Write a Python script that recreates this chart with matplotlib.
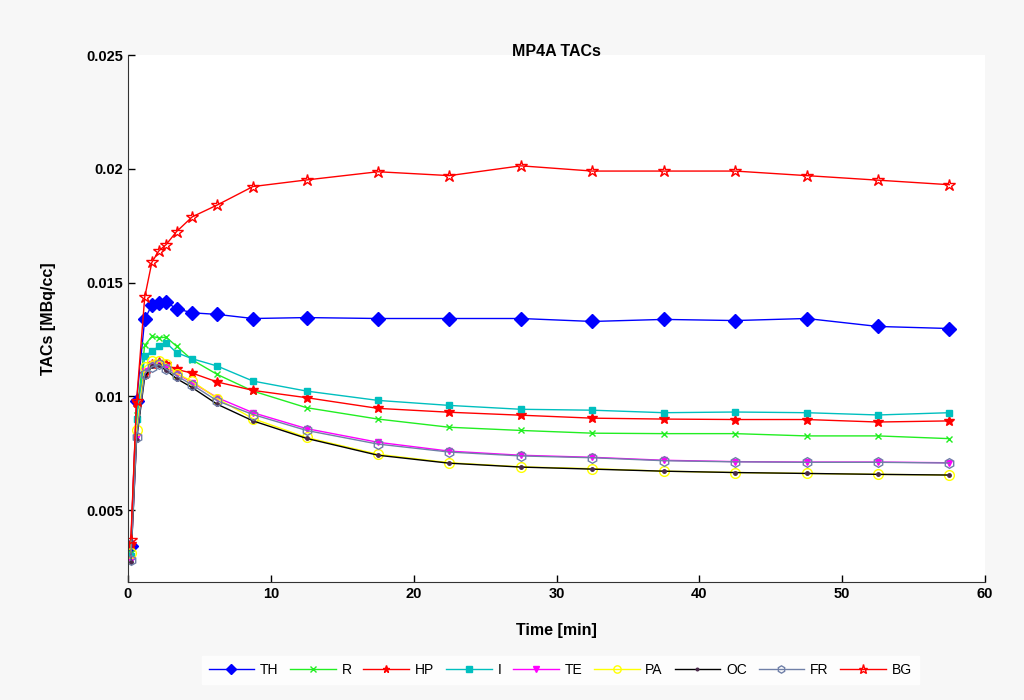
import matplotlib
matplotlib.use("Agg")
import matplotlib.pyplot as plt

# frame mid-times [min]
t = [0.2, 0.6, 1.17, 1.67, 2.17, 2.67, 3.4, 4.5, 6.25, 8.75,
     12.5, 17.5, 22.5, 27.5, 32.5, 37.5, 42.5, 47.5, 52.5, 57.5]

TH = [0.0034, 0.0098, 0.01338, 0.01402, 0.01409, 0.01414, 0.01385, 0.01367,
      0.0136, 0.01342, 0.01346, 0.01342, 0.01342, 0.01342, 0.01329, 0.01338, 0.01333,
      0.01342, 0.01307, 0.01298]
R = [0.0031, 0.0092, 0.01224, 0.01263, 0.01257, 0.0126, 0.0122, 0.0116,
     0.01096, 0.01023, 0.0095, 0.0090, 0.00864, 0.0085, 0.00838, 0.00836, 0.00836,
     0.00826, 0.00826, 0.00814]
HP = [0.0035, 0.0097, 0.0110, 0.0114, 0.0115, 0.0114, 0.01118, 0.01102,
      0.01063, 0.01026, 0.00994, 0.00947, 0.0093, 0.00917, 0.00904, 0.0090, 0.00898,
      0.00898, 0.00887, 0.00892]
I = [0.0030, 0.0090, 0.01175, 0.01199, 0.0122, 0.01235, 0.01192, 0.01165,
     0.01133, 0.01067, 0.01023, 0.00982, 0.0096, 0.00943, 0.00939, 0.00928, 0.00931,
     0.00928, 0.00918, 0.00928]
TE = [0.0028, 0.0082, 0.0111, 0.0114, 0.01143, 0.0113, 0.0110, 0.0106,
      0.00994, 0.00928, 0.00858, 0.00798, 0.00759, 0.00741, 0.00732, 0.00719, 0.00713,
      0.00711, 0.00711, 0.00708]
PA = [0.0031, 0.0085, 0.01129, 0.01155, 0.01155, 0.01143, 0.0110, 0.01066,
      0.0099, 0.00902, 0.00819, 0.00745, 0.00708, 0.00690, 0.00682, 0.00671, 0.00665,
      0.00661, 0.00657, 0.00654]
OC = [0.0027, 0.0081, 0.01085, 0.01132, 0.01136, 0.01114, 0.01078, 0.01038,
      0.00965, 0.00892, 0.00815, 0.00741, 0.00706, 0.00689, 0.0068, 0.00671, 0.00665,
      0.00661, 0.00657, 0.00654]
FR = [0.0028, 0.0082, 0.0110, 0.0113, 0.0114, 0.0112, 0.0109, 0.0105,
      0.0098, 0.0092, 0.0085, 0.0079, 0.00755, 0.00738, 0.0073, 0.00717, 0.00712,
      0.0071, 0.0071, 0.00707]
BG = [0.0037, 0.0098, 0.014355, 0.01589, 0.0164, 0.01667, 0.01724, 0.01789,
      0.01841, 0.01922, 0.01951, 0.01987, 0.0197, 0.02013, 0.0199, 0.0199, 0.0199,
      0.0197, 0.0195, 0.0193]

# name, values, color, marker, marker face, marker edge, size
series = [
    ("TH", TH, "#0000ff", "D", "#0000ff", "#0000ff", 7),
    ("R", R, "#22ee22", "x", "none", "#22ee22", 5),
    ("HP", HP, "#ff0000", "*", "#ff0000", "#ff0000", 7),
    ("I", I, "#00bfbf", "s", "#00bfbf", "#00bfbf", 5),
    ("TE", TE, "#ff00ff", "v", "#ff00ff", "#ff00ff", 5),
    ("PA", PA, "#ffff00", "o", "none", "#ffff00", 7),
    ("OC", OC, "#000000", ".", "#4a2a4a", "#4a2a4a", 5),
    ("FR", FR, "#7080a8", "h", "none", "#7080a8", 7),
    ("BG", BG, "#ff0000", "*", "none", "#ff0000", 9),
]

plt.rcParams["font.family"] = ["Liberation Sans", "DejaVu Sans"]
plt.rcParams["font.weight"] = "bold"

fig = plt.figure(figsize=(10.24, 7.0), dpi=100, facecolor="#f7f7f7")
ax = fig.add_axes([0.125, 0.1686, 0.837, 0.7528])
ax.set_facecolor("white")

for name, vals, col, mk, mfc, mec, ms in series:
    ax.plot(t, vals, color=col, lw=1.0, marker=mk, markerfacecolor=mfc,
            markeredgecolor=mec, markersize=ms, markeredgewidth=1.0, label=name)

ax.set_xlim(0, 60)
ax.set_ylim(0.00184, 0.025)
ax.set_xticks([0, 10, 20, 30, 40, 50, 60])
ax.set_yticks([0.005, 0.01, 0.015, 0.02, 0.025])
ax.set_yticklabels(["0.005", "0.01", "0.015", "0.02", "0.025"])
ax.tick_params(direction="in", length=5, labelsize=10.5, width=1)
for lbl in ax.get_xticklabels() + ax.get_yticklabels():
    lbl.set_fontweight("bold")
ax.spines["top"].set_visible(False)
ax.spines["right"].set_visible(False)
ax.spines["left"].set_color("#333333")
ax.spines["bottom"].set_color("#333333")

# title sits right on the top edge of the axes
ax.text(0.5, 1.006, "MP4A TACs", transform=ax.transAxes, ha="center", va="center",
        fontsize=11.5, fontweight="bold")
ax.set_xlabel("Time [min]", fontsize=11.5, fontweight="bold", labelpad=16)
ax.set_ylabel("TACs [MBq/cc]", fontsize=11.5, fontweight="bold")
ax.yaxis.set_label_coords(-0.084, 0.5)

leg = fig.legend(loc="center", bbox_to_anchor=(0.547, 0.043), ncol=9, fontsize=10,
                 handlelength=3.3, columnspacing=0.85, handletextpad=0.4,
                 markerscale=0.75, frameon=True, fancybox=False, borderpad=0.5)
leg.get_frame().set_facecolor("white")
leg.get_frame().set_edgecolor("white")
for txt in leg.get_texts():
    txt.set_fontweight("normal")

fig.savefig("out.png", dpi=100, facecolor=fig.get_facecolor())
